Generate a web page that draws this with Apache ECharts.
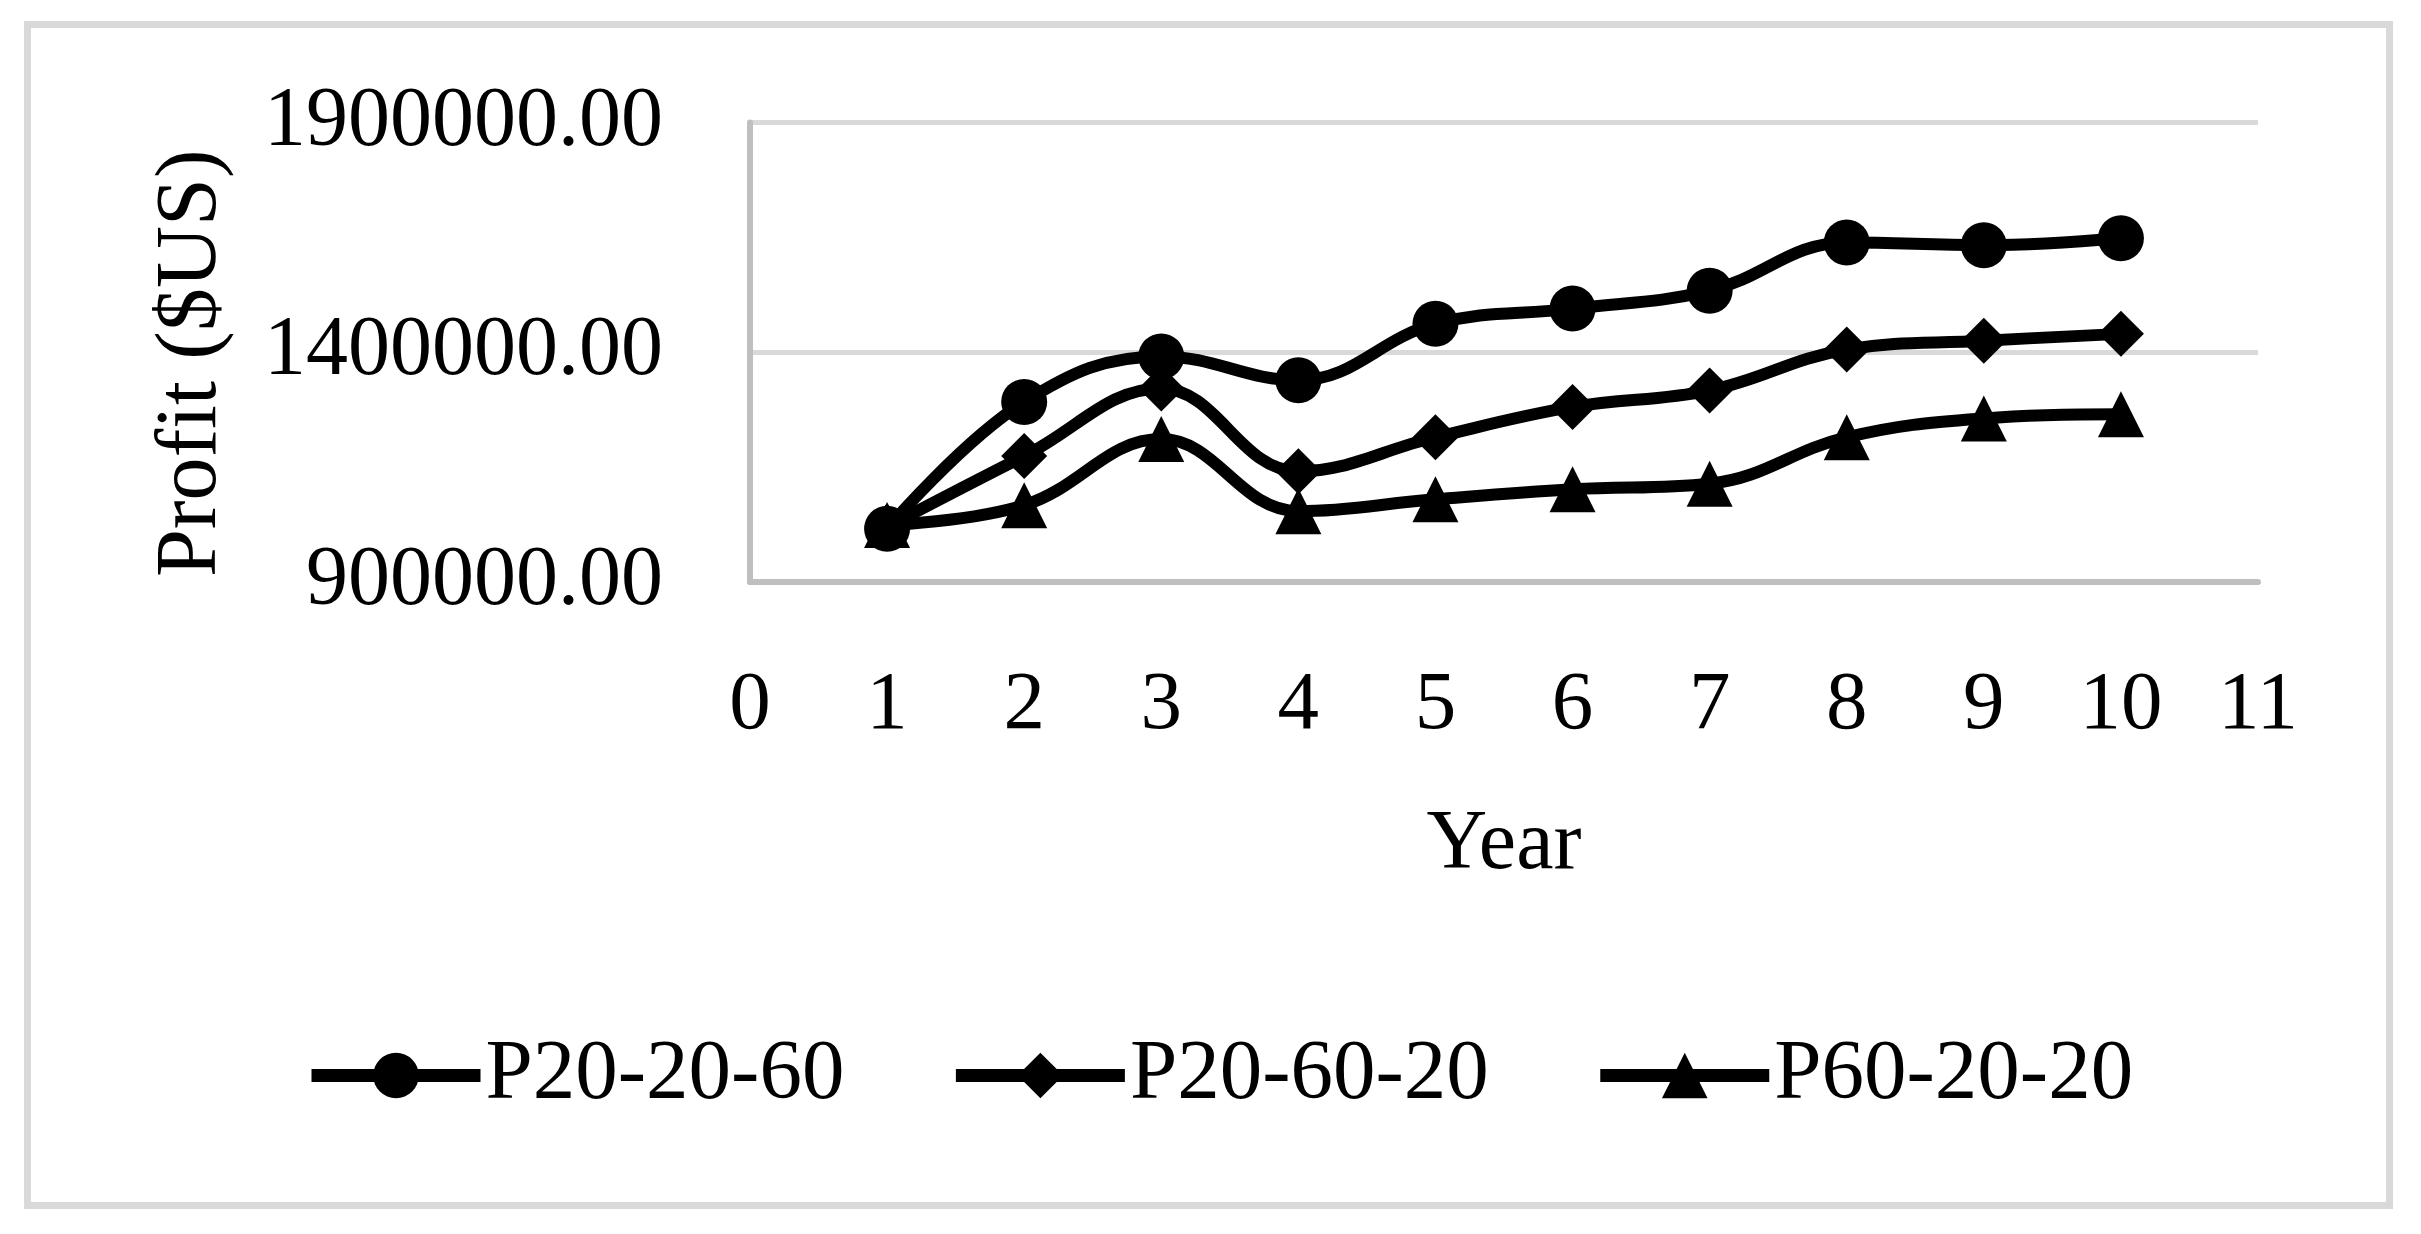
<!DOCTYPE html>
<html>
<head>
<meta charset="utf-8">
<script src="https://cdn.jsdelivr.net/npm/echarts@6/dist/echarts.min.js"></script>
<style>
html,body{margin:0;padding:0;background:#fff;}
#chart{width:2421px;height:1234px;}
</style>
</head>
<body>
<div id="chart"></div>
<script>
const years = [1, 2, 3, 4, 5, 6, 7, 8, 9, 10];
const seriesNames = ['P20-20-60', 'P20-60-20', 'P60-20-20'];
const p202060 = [1016000, 1292000, 1391000, 1339000, 1462000, 1495000, 1534000, 1639000, 1633000, 1648000];
const p206020 = [1020000, 1174000, 1321000, 1141000, 1215000, 1281000, 1317000, 1406000, 1425000, 1440000];
const p602020 = [1024000, 1067000, 1211000, 1054000, 1080000, 1102000, 1114000, 1215000, 1256000, 1265000];
const symbols = ['circle', 'diamond', 'triangle'];
const xTicks = { min: 0, max: 11, interval: 1 };
const yTicks = { min: 900000, max: 1900000, interval: 500000 };

const FONT = "'Liberation Serif', 'Times New Roman', serif";
const values = [p202060, p206020, p602020];

const chart = echarts.init(document.getElementById('chart'), null, { renderer: 'canvas' });
const option = {
  backgroundColor: '#ffffff',
  animation: false,
  graphic: [{
    type: 'rect',
    shape: { x: 27.5, y: 24.5, width: 2362, height: 1181 },
    style: { fill: 'none', stroke: '#d9d9d9', lineWidth: 7 },
    z: -10
  }],
  grid: {
    left: 750, right: 163, top: 122.5, bottom: 652,
    containLabel: false, outerBoundsMode: 'none'
  },
  xAxis: {
    type: 'value',
    min: xTicks.min, max: xTicks.max, interval: xTicks.interval,
    name: 'Year',
    nameLocation: 'middle',
    nameGap: 222,
    nameTextStyle: { fontFamily: FONT, fontSize: 84, color: '#000' },
    axisLine: { show: true, onZero: false, lineStyle: { color: '#bfbfbf', width: 6 } },
    axisTick: { show: false },
    splitLine: { show: false },
    axisLabel: { fontFamily: FONT, fontSize: 83, color: '#000', margin: 83 }
  },
  yAxis: {
    type: 'value',
    min: yTicks.min, max: yTicks.max, interval: yTicks.interval,
    name: 'Profit ($US)',
    nameLocation: 'middle',
    nameRotate: 90,
    nameGap: 515,
    nameTextStyle: { fontFamily: FONT, fontSize: 86, color: '#000', padding: [0, 22, 0, 0] },
    axisLine: { show: true, lineStyle: { color: '#bfbfbf', width: 6 } },
    axisTick: { show: false },
    splitLine: { show: true, lineStyle: { color: '#d9d9d9', width: 5 } },
    axisLabel: {
      fontFamily: FONT, fontSize: 84, color: '#000', margin: 87,
      formatter: v => v.toFixed(2)
    }
  },
  legend: {
    left: 300,
    top: 1028,
    itemWidth: 169,
    itemHeight: 57,
    itemGap: 105,
    textStyle: { fontFamily: FONT, fontSize: 85, color: '#000' },
    lineStyle: { width: 13 },
    data: seriesNames
  },
  series: seriesNames.map((name, i) => ({
    name: name,
    type: 'line',
    smooth: 0.4,
    symbol: symbols[i],
    symbolSize: 46,
    color: '#000',
    lineStyle: { color: '#000', width: 12 },
    itemStyle: { color: '#000' },
    data: years.map((y, k) => [y, values[i][k]])
  }))
};
chart.setOption(option);
</script>
</body>
</html>
